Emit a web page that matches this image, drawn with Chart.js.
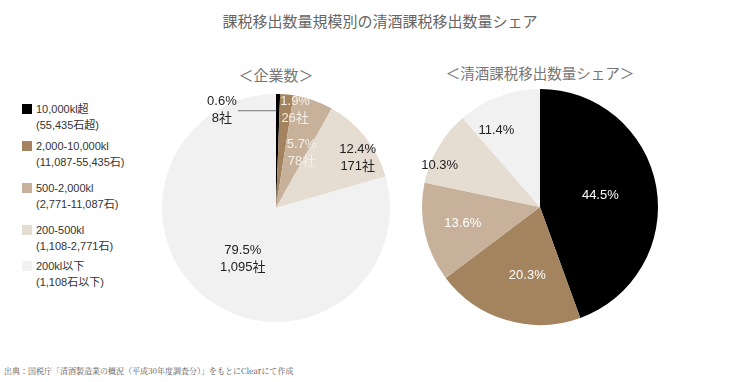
<!DOCTYPE html>
<html>
<head>
<meta charset="utf-8">
<script src="https://cdn.jsdelivr.net/npm/chart.js@4"></script>
<style>
  body { margin: 0; width: 750px; height: 382px; background: #fff; position: relative; overflow: hidden;
         font-family: "Liberation Sans", "Noto Sans CJK JP", sans-serif; }
  .title { position: absolute; top: 10px; left: 0; width: 760px; text-align: center; font-size: 15px; color: #666; }
  .sub { position: absolute; font-size: 15px; color: #777; text-align: center; }
  .legend { position: absolute; left: 22px; top: 101px; font-size: 11px; color: #333; }
  .legend .item { position: relative; padding-left: 14px; line-height: 16px; }
  .legend .sw { position: absolute; left: 0; top: 3px; width: 10px; height: 10px; }
  .src { position: absolute; left: 4px; top: 365px; font-size: 8px; color: #555;
         font-family: "Noto Serif CJK JP", "DejaVu Serif", serif; }
  canvas { position: absolute; }
</style>
</head>
<body>
<div class="title">課税移出数量規模別の清酒課税移出数量シェア</div>
<div class="sub" style="left:176px; top:64px; width:200px;">＜企業数＞</div>
<div class="sub" style="left:420px; top:62px; width:240px; font-size:14.5px;">＜清酒課税移出数量シェア＞</div>
<div class="legend" id="legend"></div>
<div class="src">出典：国税庁「清酒製造業の概況（平成30年度調査分）」をもとにClearにて作成</div>
<canvas id="graficoEmpresas" width="260" height="260" style="left:146px; top:78px;"></canvas>
<canvas id="graficoVolumen" width="260" height="260" style="left:410px; top:77px;"></canvas>
<script>
const categorias = ['10,000kl超', '2,000-10,000kl', '500-2,000kl', '200-500kl', '200kl以下'];
const categoriasKoku = ['(55,435石超)', '(11,087-55,435石)', '(2,771-11,087石)', '(1,108-2,771石)', '(1,108石以下)'];
const empresas = [8, 26, 78, 171, 1095];
const volumenPct = [44.5, 20.3, 13.6, 10.3, 11.4];

const colores = ['#000000', '#a3845f', '#c8b19b', '#e5dcd2', '#f1f1f1'];
const legendGaps = [0, 5, 10, 10, 4];

// leyenda
const legend = document.getElementById('legend');
categorias.forEach((c, i) => {
  const d = document.createElement('div');
  d.className = 'item';
  d.style.marginTop = legendGaps[i] + 'px';
  d.innerHTML = `<span class="sw" style="background:${colores[i]}"></span>${c}<br>${categoriasKoku[i]}`;
  legend.appendChild(d);
});

const total = empresas.reduce((a, b) => a + b, 0);
const empresasPct = empresas.map(v => (v / total * 100).toFixed(1));

// colocacion de etiquetas: desplazamiento angular (grados) y fraccion del radio
const etiqIzq = [
  { shift: -30, r: 0.98, color: '#222', leader: true },
  { shift: 5.5, r: 0.88, color: '#f4efe9' },
  { shift: 6, r: 0.53, color: '#f4efe9' },
  { shift: 7, r: 0.84, color: '#222' },
  { shift: -3.6, r: 0.53, color: '#222' }
];
const etiqDer = [
  { shift: -0.5, r: 0.52, color: '#fff' },
  { shift: -6, r: 0.59, color: '#fff' },
  { shift: 0.2, r: 0.67, color: '#fff' },
  { shift: -8, r: 0.92, color: '#222' },
  { shift: -9, r: 0.75, color: '#222' }
];

const fuente = '13px "Liberation Sans", "Noto Sans CJK JP", sans-serif';

function pluginEtiquetas(conf, textos) {
  return {
    id: 'etiquetas',
    afterDatasetsDraw(chart) {
      const ctx = chart.ctx;
      const meta = chart.getDatasetMeta(0);
      ctx.save();
      ctx.font = fuente;
      ctx.textAlign = 'center';
      ctx.textBaseline = 'middle';
      meta.data.forEach((arc, i) => {
        const p = arc.getProps(['x', 'y', 'startAngle', 'endAngle', 'outerRadius'], true);
        const mid = (p.startAngle + p.endAngle) / 2;
        const a = mid + conf[i].shift * Math.PI / 180;
        const lx = p.x + Math.cos(a) * p.outerRadius * conf[i].r;
        const ly = p.y + Math.sin(a) * p.outerRadius * conf[i].r;
        const lineas = textos(i);
        ctx.fillStyle = conf[i].color;
        lineas.forEach((t, k) => {
          ctx.fillText(t, lx, ly + (k - (lineas.length - 1) / 2) * 17);
        });
        if (conf[i].leader) {
          ctx.strokeStyle = '#777';
          ctx.lineWidth = 1;
          ctx.beginPath();
          ctx.moveTo(lx + 16, ly + 0.5);
          ctx.lineTo(p.x + 0.5, ly + 0.5);
          ctx.stroke();
        }
      });
      ctx.restore();
    }
  };
}

function crearPie(id, valores, padding, plugin) {
  return new Chart(document.getElementById(id), {
    type: 'pie',
    data: {
      labels: categorias,
      datasets: [{ data: valores, backgroundColor: colores, borderWidth: 0 }]
    },
    options: {
      responsive: false,
      animation: false,
      layout: { padding: padding },
      plugins: { legend: { display: false }, tooltip: { enabled: false } }
    },
    plugins: [plugin]
  });
}

crearPie('graficoEmpresas', empresas, 16,
  pluginEtiquetas(etiqIzq, i => [empresasPct[i] + '%', empresas[i].toLocaleString('en-US') + '社']));
crearPie('graficoVolumen', volumenPct, 12,
  pluginEtiquetas(etiqDer, i => [volumenPct[i].toFixed(1) + '%']));
</script>
</body>
</html>
